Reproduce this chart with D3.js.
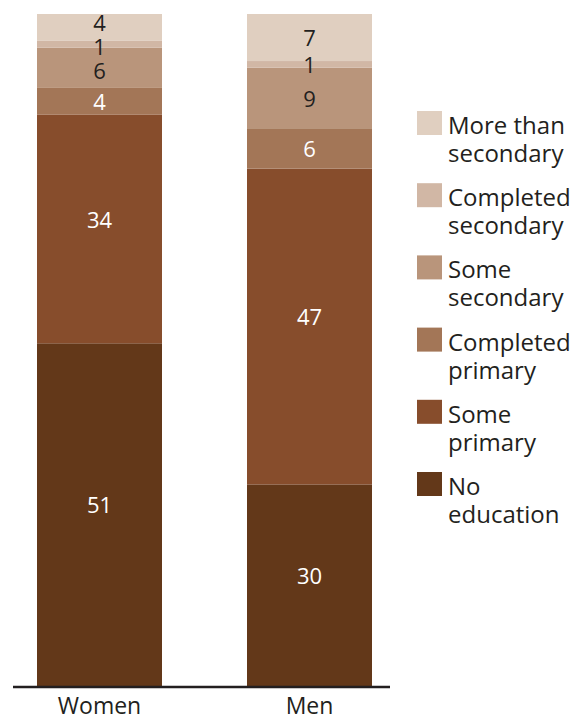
<!DOCTYPE html>
<html><head><meta charset="utf-8">
<script src="https://cdn.jsdelivr.net/npm/d3@7"></script>
<style>body{margin:0;background:#fff}svg{display:block}text{font-family:"Open Sans",sans-serif}</style>
</head><body><svg id="c" width="573" height="720"></svg>
<script>
const groups = ["Women", "Men"];
const categories = ["No education", "Some primary", "Completed primary", "Some secondary", "Completed secondary", "More than secondary"];
const legendLines = [["No", "education"], ["Some", "primary"], ["Completed", "primary"], ["Some", "secondary"], ["Completed", "secondary"], ["More than", "secondary"]];
const women = [51, 34, 4, 6, 1, 4];
const men = [30, 47, 6, 9, 1, 7];
const colors = ["#633819", "#874d2c", "#a37657", "#b9957b", "#d1b7a5", "#e0cfc0"];
const labelColors = ["#fff", "#fff", "#fff", "#231f20", "#231f20", "#231f20"];

const svg = d3.select("#c");
const baseY = 686, topY = 14;
const x = d3.scaleBand().domain(groups).range([37, 372]).paddingInner(85 / 210).paddingOuter(0);
const y = d3.scaleLinear().domain([0, 100]).range([baseY, topY]);
const series = [women, men];
const g = svg.append("g");

groups.forEach((grp, gi) => {
  const vals = series[gi];
  let cum = 0;
  const segs = vals.map((v, i) => { const s = {v, i, y0: cum, y1: cum + v}; cum += v; return s; });
  g.selectAll(null).data(segs).enter().append("rect")
    .attr("x", x(grp)).attr("width", x.bandwidth())
    .attr("y", d => y(d.y1)).attr("height", d => y(d.y0) - y(d.y1))
    .attr("fill", d => colors[d.i]);
  const pos = segs.map(d => {
    const h = y(d.y0) - y(d.y1);
    return (y(d.y0) + y(d.y1)) / 2 - (h > 100 ? 10 : 0);
  });
  const minGap = 24;
  for (let it = 0; it < 50; it++) {
    for (let k = 0; k < pos.length - 1; k++) {
      const gap = pos[k] - pos[k + 1];
      if (gap < minGap) { const m = (minGap - gap) / 2; pos[k] += m; pos[k + 1] -= m; }
    }
    pos[pos.length - 1] = Math.max(pos[pos.length - 1], topY + 8);
  }
  g.selectAll(null).data(segs).enter().append("text")
    .attr("x", x(grp) + x.bandwidth() / 2).attr("y", (d, k) => pos[k] + 1)
    .attr("dy", "0.35em").attr("text-anchor", "middle")
    .attr("font-size", 22).attr("fill", d => labelColors[d.i]).text(d => d.v);
});

svg.append("line").attr("x1", 13).attr("x2", 390).attr("y1", baseY + 1).attr("y2", baseY + 1)
  .attr("stroke", "#231f20").attr("stroke-width", 2.5);
const xAxis = d3.axisBottom(x).tickSize(0).tickPadding(12);
const ax = svg.append("g").attr("transform", `translate(0,${baseY})`).call(xAxis);
ax.select(".domain").remove();
ax.selectAll("text").attr("font-size", 23).attr("fill", "#231f20").attr("font-family", '"Open Sans",sans-serif');

const leg = svg.append("g").attr("transform", "translate(417,111)");
const order = d3.range(categories.length).reverse();
order.forEach((ci, k) => {
  const item = leg.append("g").attr("transform", `translate(0,${k * 72.2})`);
  item.append("rect").attr("width", 25).attr("height", 24).attr("fill", colors[ci]);
  const t = item.append("text").attr("x", 31).attr("y", 23).attr("font-size", 24).attr("fill", "#231f20");
  legendLines[ci].forEach((ln, li) => t.append("tspan").attr("x", 31).attr("dy", li ? 28 : 0).text(ln));
});
</script></body></html>
